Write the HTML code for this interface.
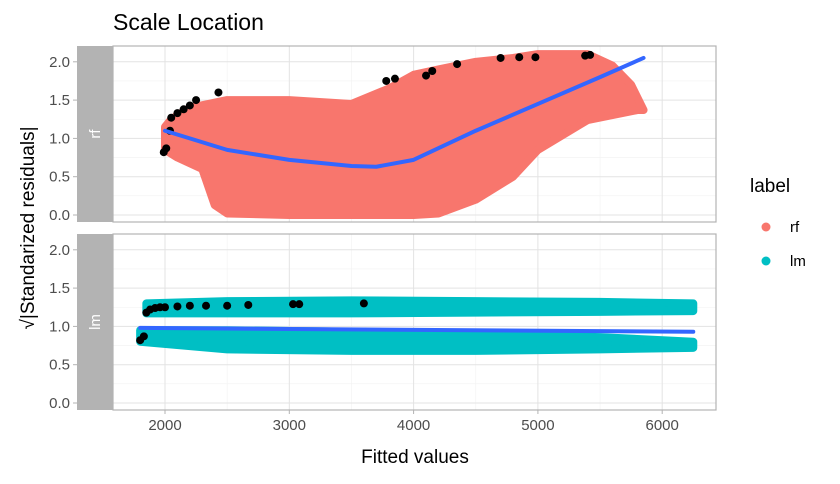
<!DOCTYPE html>
<html><head><meta charset="utf-8"><style>
body{margin:0;background:#fff;}
svg{font-family:"Liberation Sans",sans-serif;}
</style></head><body>
<svg id="c" width="840" height="479" xmlns="http://www.w3.org/2000/svg"></svg>
<script>
// ---- data ----
const xTicks=[2000,3000,4000,5000,6000];
const yTicks=[0,0.5,1,1.5,2];
const yTickLabels=["0.0","0.5","1.0","1.5","2.0"];
const rfEnvX=[2000,2050,2200,2500,3000,3500,3800,4000,4200,4500,4800,5000,5400,5600,5750,5850];
const rfEnvUpper=[1.15,1.25,1.4,1.5,1.5,1.45,1.65,1.83,1.9,2.0,2.05,2.1,2.1,1.95,1.7,1.37];
const rfEnvLowerX=[2000,2100,2300,2400,2500,3000,3500,4000,4200,4500,4800,5000,5400,5800,5850];
const rfEnvLower=[0.85,0.75,0.6,0.13,0.02,0,0,0,0.02,0.2,0.5,0.85,1.24,1.37,1.37];
const lmUpX=[1850,2500,3500,4500,5500,6250];
const lmUpHi=[1.3,1.33,1.34,1.33,1.32,1.3];
const lmUpLo=[1.17,1.17,1.17,1.18,1.19,1.2];
const lmLoX=[1800,2500,3500,4500,5500,6250];
const lmLoHi=[0.95,0.95,0.93,0.9,0.86,0.8];
const lmLoLo=[0.8,0.7,0.68,0.68,0.7,0.72];
const rfSmoothX=[2000,2500,3000,3500,3700,4000,4500,5000,5500,5850];
const rfSmoothY=[1.1,0.85,0.72,0.64,0.63,0.72,1.1,1.45,1.8,2.05];
const lmSmoothX=[1800,6250];
const lmSmoothY=[0.98,0.93];
const rfOutX=[1990,2010,2040,2050,2100,2150,2200,2250,2430,3780,3850,4100,4150,4350,4700,4850,4980,5380,5420];
const rfOutY=[0.82,0.87,1.1,1.27,1.33,1.38,1.43,1.5,1.6,1.75,1.78,1.82,1.88,1.97,2.05,2.06,2.06,2.08,2.09];
const lmOutX=[1800,1830,1850,1880,1920,1960,2000,2100,2200,2330,2500,2670,3030,3080,3600];
const lmOutY=[0.82,0.87,1.18,1.22,1.24,1.25,1.25,1.26,1.27,1.27,1.27,1.28,1.29,1.29,1.3];

// ---- layout ----
const svg=document.getElementById('c');
const NS='http://www.w3.org/2000/svg';
const PL=113,PR=716;
const panels=[{top:46,bot:222,y0:215,name:'rf'},{top:234,bot:410,y0:403,name:'lm'}];
const ys=76.6;
const sx=v=>165+(v-2000)*0.1243;
function mk(tag,attrs,parent){const e=document.createElementNS(NS,tag);for(const k in attrs)e.setAttribute(k,attrs[k]);(parent||svg).appendChild(e);return e;}
function txt(s,attrs){const t=mk('text',attrs);t.textContent=s;return t;}

let t=txt('Scale Location',{x:113,y:30,'font-size':23,fill:'#000'});



panels.forEach((p,pi)=>{
  const sy=v=>p.y0-v*ys;
  const g=mk('g',{});
  
  
  [1500,2500,3500,4500,5500,6500].forEach(v=>{const x=sx(v);if(x>PL&&x<PR)mk('line',{x1:x,x2:x,y1:p.top,y2:p.bot,stroke:'#f2f2f2','stroke-width':0.6},g);});
  [0.25,0.75,1.25,1.75].forEach(v=>mk('line',{x1:PL,x2:PR,y1:sy(v),y2:sy(v),stroke:'#f2f2f2','stroke-width':0.6},g));
  xTicks.forEach(v=>mk('line',{x1:sx(v),x2:sx(v),y1:p.top,y2:p.bot,stroke:'#e3e3e3','stroke-width':1},g));
  yTicks.forEach((v,i)=>{
    mk('line',{x1:PL,x2:PR,y1:sy(v),y2:sy(v),stroke:'#e3e3e3','stroke-width':1},g);
    mk('line',{x1:73,x2:77,y1:sy(v),y2:sy(v),stroke:'#b3b3b3'},g);
    const l=txt(yTickLabels[i],{x:70,y:sy(v)+5,'font-size':15,fill:'#4d4d4d','text-anchor':'end'});
    
    
  });
  const col=pi===0?'#F8766D':'#00BFC4';
  function band(xs,hi,xs2,lo){
    let pts=xs.map((x,i)=>sx(x)+','+sy(hi[i]));
    for(let i=xs2.length-1;i>=0;i--)pts.push(sx(xs2[i])+','+sy(lo[i]));
    const b=mk('polygon',{points:pts.join(' '),fill:col,stroke:col,'stroke-width':8,'stroke-linejoin':'round'},g);
    
    
  }
  if(pi===0)band(rfEnvX,rfEnvUpper,rfEnvLowerX,rfEnvLower);
  else{band(lmUpX,lmUpHi,lmUpX,lmUpLo);band(lmLoX,lmLoHi,lmLoX,lmLoLo);}
  const ox=pi===0?rfOutX:lmOutX, oy=pi===0?rfOutY:lmOutY;
  ox.forEach((x,i)=>{const c=mk('circle',{cx:sx(x),cy:sy(oy[i]),r:4,fill:'#000'},g);
    
    });
  const lx=pi===0?rfSmoothX:lmSmoothX, ly=pi===0?rfSmoothY:lmSmoothY;
  const ln=mk('polyline',{points:lx.map((x,i)=>sx(x)+','+sy(ly[i])).join(' '),fill:'none',stroke:'#3366FF','stroke-width':4,'stroke-linejoin':'round','stroke-linecap':'round'},g);
  
  
  mk('rect',{x:PL,y:p.top,width:PR-PL,height:p.bot-p.top,fill:'none',stroke:'#b3b3b3','stroke-width':1.2},g);
  const s=mk('rect',{x:77,y:p.top,width:PL-77,height:p.bot-p.top,fill:'#b3b3b3'},g);
  
  
  const cy=(p.top+p.bot)/2;
  const st=txt(p.name,{x:100,y:cy,'font-size':15,fill:'#fff','text-anchor':'middle',transform:`rotate(-90 100 ${cy})`});
  
  
});
xTicks.forEach(v=>{
  mk('line',{x1:sx(v),x2:sx(v),y1:410,y2:414,stroke:'#b3b3b3'});
  const l=txt(String(v),{x:sx(v),y:430,'font-size':15,fill:'#4d4d4d','text-anchor':'middle'});
  
  
});
t=txt('Fitted values',{x:415,y:463,'font-size':19,fill:'#000','text-anchor':'middle'});


t=txt('√|Standarized residuals|',{x:34,y:228,'font-size':19,fill:'#000','text-anchor':'middle',transform:'rotate(-90 34 228)'});


t=txt('label',{x:750,y:192,'font-size':19,fill:'#000'});


[['rf','#F8766D',227],['lm','#00BFC4',261]].forEach(([n,c,y])=>{
  const g=mk('g',{});
  
  
  mk('circle',{cx:766,cy:y,r:4.5,fill:c},g);
  const tt=mk('text',{x:790,y:y+5,'font-size':15,fill:'#000'},g);tt.textContent=n;
});
</script>
</body></html>
